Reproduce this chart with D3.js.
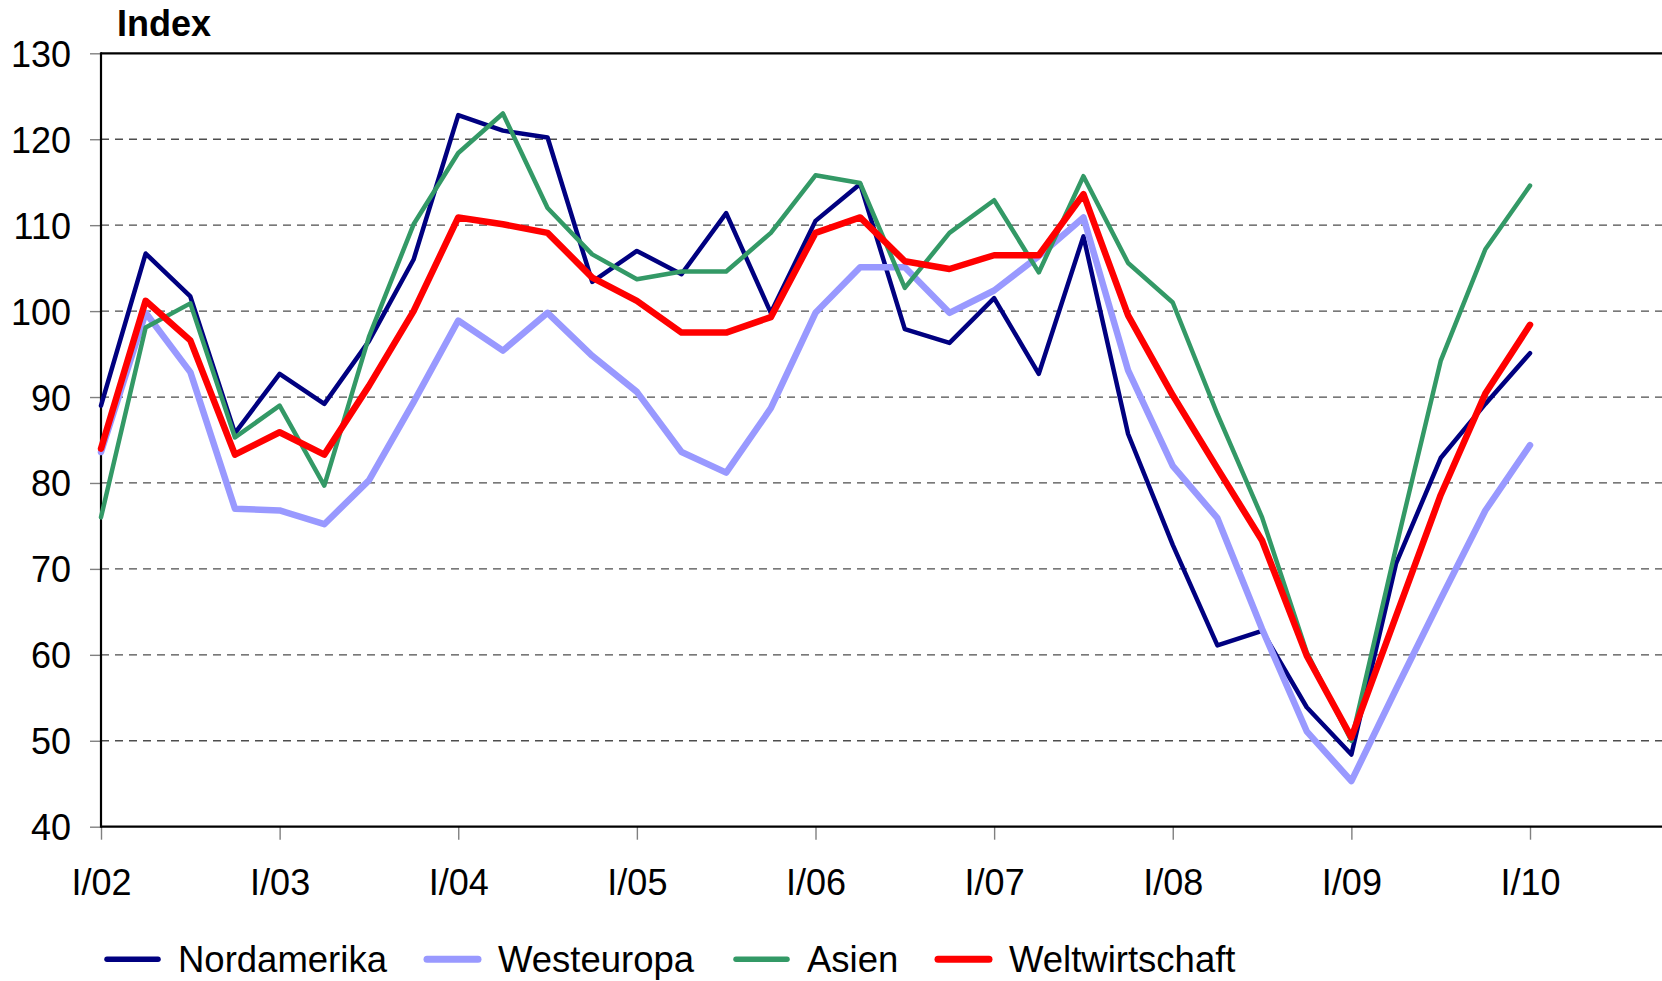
<!DOCTYPE html>
<html>
<head>
<meta charset="utf-8">
<script src="https://cdn.jsdelivr.net/npm/d3@7"></script>
<style>
  body { margin: 0; background: #ffffff; }
  svg text { font-family: "Liberation Sans", Arial, sans-serif; fill: #000; }
</style>
</head>
<body>
<svg id="chart" width="1662" height="981"></svg>
<script>
// Quarterly index values, I/2002 to I/2010
const quarters = [
  "I/02","II/02","III/02","IV/02",
  "I/03","II/03","III/03","IV/03",
  "I/04","II/04","III/04","IV/04",
  "I/05","II/05","III/05","IV/05",
  "I/06","II/06","III/06","IV/06",
  "I/07","II/07","III/07","IV/07",
  "I/08","II/08","III/08","IV/08",
  "I/09","II/09","III/09","IV/09",
  "I/10"
];
const xTickLabels = ["I/02","I/03","I/04","I/05","I/06","I/07","I/08","I/09","I/10"];
const yTickValues = [40, 50, 60, 70, 80, 90, 100, 110, 120, 130];
const gridValues = [50, 60, 70, 80, 90, 100, 110, 120];

const nordamerika = [
  89.0, 106.7, 101.7, 85.8, 92.7, 89.2, 96.5, 106.0,
  122.8, 121.0, 120.2, 103.4, 107.0, 104.3, 111.4, 99.8,
  110.5, 114.8, 97.9, 96.3, 101.5, 92.7, 108.7, 85.7,
  72.8, 61.1, 62.8, 53.9, 48.4, 70.6, 82.9, 89.2,
  95.1
];
const westeuropa = [
  83.6, 99.8, 92.9, 77.0, 76.8, 75.2, 80.3, 89.4,
  98.9, 95.4, 99.8, 94.8, 90.6, 83.6, 81.2, 88.7,
  99.8, 105.1, 105.1, 99.8, 102.4, 106.4, 110.9, 93.1,
  82.0, 75.9, 63.0, 51.1, 45.3, 56.0, 66.5, 76.8,
  84.4
];
const asien = [
  76.0, 98.1, 100.9, 85.3, 89.0, 79.7, 97.0, 110.1,
  118.4, 123.0, 112.0, 106.6, 103.7, 104.6, 104.6, 109.1,
  115.8, 114.9, 102.7, 109.1, 112.9, 104.5, 115.7, 105.6,
  101.0, 88.0, 76.0, 60.3, 50.0, 72.5, 94.2, 107.2,
  114.6
];
const weltwirtschaft = [
  84.0, 101.2, 96.6, 83.3, 85.9, 83.3, 91.3, 100.0,
  110.9, 110.1, 109.1, 103.9, 101.2, 97.5, 97.5, 99.3,
  109.1, 110.9, 105.8, 104.9, 106.5, 106.5, 113.6, 99.5,
  90.2, 81.7, 73.3, 59.9, 50.4, 64.5, 78.6, 90.4,
  98.4
];

const seriesNames = ["Nordamerika", "Westeuropa", "Asien", "Weltwirtschaft"];
const seriesValues = [nordamerika, westeuropa, asien, weltwirtschaft];
const seriesColors = ["#000080", "#9999ff", "#339966", "#ff0000"];
const seriesWidths = [4.5, 6.5, 4.5, 6.5];
const legendWidths = [5.5, 7, 5.5, 7];

// ---- layout ----
const svg = d3.select("#chart");
const plotLeft = 101, lastX = 1530, plotRight = 1662;
const plotTop = 53.3, plotBottom = 826.7;
const fontSize = 36;

const x = d3.scalePoint().domain(quarters).range([plotLeft, lastX]);
const y = d3.scaleLinear().domain([40, 130]).range([plotBottom, plotTop]);

// dashed horizontal gridlines
svg.append("g")
  .selectAll("line")
  .data(gridValues)
  .join("line")
  .attr("x1", plotLeft).attr("x2", plotRight)
  .attr("y1", d => y(d)).attr("y2", d => y(d))
  .attr("stroke", "#4d4d4d")
  .attr("stroke-width", 1.3)
  .attr("stroke-dasharray", "8,6");

// y axis ticks and labels
const yAxis = svg.append("g")
  .attr("transform", `translate(${plotLeft},0)`)
  .call(d3.axisLeft(y).tickValues(yTickValues).tickSize(11).tickPadding(19).tickFormat(d3.format("d")));
yAxis.select(".domain").remove();
yAxis.selectAll(".tick line").attr("stroke", "#808080").attr("stroke-width", 1.4);
yAxis.selectAll(".tick text")
  .attr("font-size", fontSize)
  .attr("font-family", "'Liberation Sans', Arial, sans-serif")
  .attr("dy", "0.36em");

// x axis ticks and labels
const xAxis = svg.append("g")
  .attr("transform", `translate(0,${plotBottom})`)
  .call(d3.axisBottom(x).tickValues(xTickLabels).tickSize(13));
xAxis.select(".domain").remove();
xAxis.selectAll(".tick line").attr("stroke", "#808080").attr("stroke-width", 1.4);
xAxis.selectAll(".tick text")
  .attr("font-size", fontSize)
  .attr("font-family", "'Liberation Sans', Arial, sans-serif")
  .attr("y", 895 - plotBottom)
  .attr("dy", 0);

// plot frame: left axis, bottom axis, top border
const frame = svg.append("g").attr("stroke", "#000").attr("stroke-width", 2.2).attr("fill", "none");
frame.append("line").attr("x1", plotLeft).attr("x2", plotLeft).attr("y1", plotTop - 1.1).attr("y2", plotBottom + 1.1);
frame.append("line").attr("x1", plotLeft).attr("x2", plotRight).attr("y1", plotBottom).attr("y2", plotBottom);
frame.append("line").attr("x1", plotLeft).attr("x2", plotRight).attr("y1", plotTop).attr("y2", plotTop);

// series lines
const line = d3.line()
  .x((d, i) => x(quarters[i]))
  .y(d => y(d));

svg.append("g")
  .selectAll("path")
  .data(seriesValues)
  .join("path")
  .attr("d", d => line(d))
  .attr("fill", "none")
  .attr("stroke", (d, i) => seriesColors[i])
  .attr("stroke-width", (d, i) => seriesWidths[i])
  .attr("stroke-linejoin", "round")
  .attr("stroke-linecap", "round");

// axis title
svg.append("text")
  .attr("x", 117).attr("y", 35.5)
  .attr("font-size", fontSize)
  .attr("font-weight", "bold")
  .text("Index");

// legend
const legendX = [107, 427, 736, 938];
const legendY = 959.3;
const legend = svg.append("g")
  .selectAll("g")
  .data(seriesNames)
  .join("g")
  .attr("transform", (d, i) => `translate(${legendX[i]},${legendY})`);
legend.append("line")
  .attr("x1", 0).attr("x2", 51)
  .attr("y1", 0).attr("y2", 0)
  .attr("stroke", (d, i) => seriesColors[i])
  .attr("stroke-width", (d, i) => legendWidths[i])
  .attr("stroke-linecap", "round");
legend.append("text")
  .attr("x", 71).attr("y", 12.5)
  .attr("font-size", 36.5)
  .text(d => d);
</script>
</body>
</html>
